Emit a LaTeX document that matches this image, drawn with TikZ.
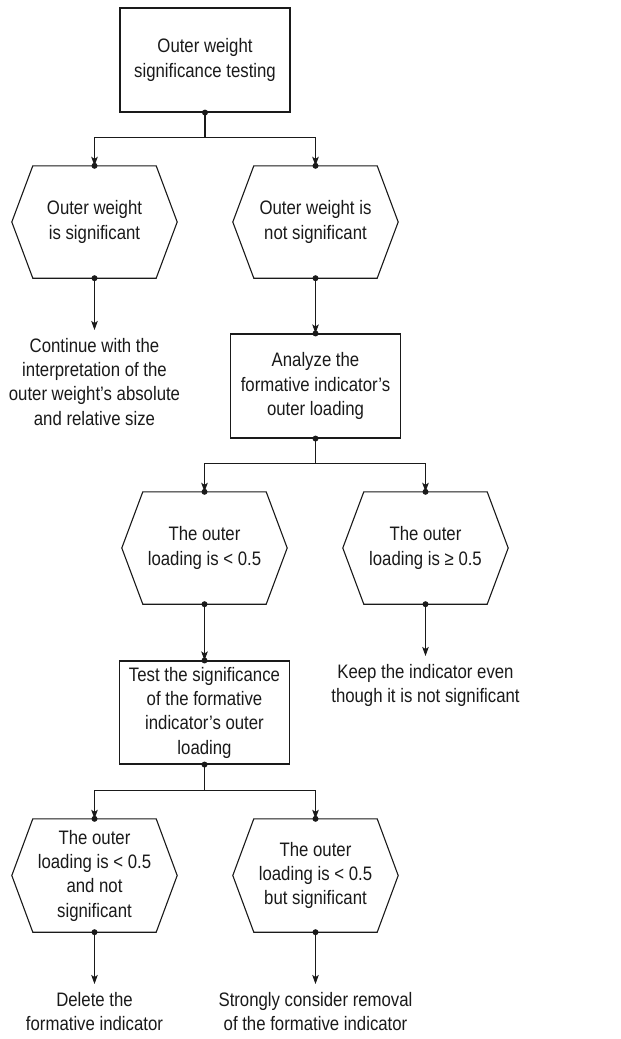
\documentclass[tikz,border=0pt]{standalone}
\usepackage{fontspec}
\setmainfont{Liberation Sans}[FakeStretch=0.86]
\usetikzlibrary{arrows.meta}
\definecolor{ink}{HTML}{1A1A1A}
\tikzset{
  every node/.style={font=\fontsize{19.5}{24.3}\selectfont, text=ink, align=center},
  boxnode/.style={draw=ink, line width=1.1pt, minimum width=170pt, inner sep=0pt},
  hexnode/.style={minimum width=165pt, minimum height=112pt, inner sep=0pt},
  outcome/.style={anchor=north, inner xsep=0pt, inner ysep=8pt},
  arr/.style={draw=ink, line width=1.1pt, -{Stealth[length=9pt,width=6.5pt,inset=2pt]}},
  conn/.style={draw=ink, line width=1.1pt},
}
\newcommand{\jdot}[1]{\fill[ink] (#1) circle (3pt);}
\begin{document}
\begin{tikzpicture}[x=1pt,y=-1pt]
\useasboundingbox[fill=white] (0,0) rectangle (621,1039);

% boxes
\node[boxnode, minimum height=104pt] (t) at (205,60) {Outer weight\\significance testing};
\node[boxnode, minimum height=104pt] (a) at (315.5,386) {Analyze the\\formative indicator’s\\outer loading};
\node[boxnode, minimum height=103pt] (tb) at (204.5,712.5) {Test the significance\\of the formative\\indicator’s outer\\loading};

% hexagon nodes
\node[hexnode] (h1) at (94.5,222) {Outer weight\\is significant};
\node[hexnode] (h2) at (315.5,222) {Outer weight is\\not significant};
\node[hexnode] (h3) at (204.5,548) {The outer\\loading is < 0.5};
\node[hexnode] (h4) at (425.5,548) {The outer\\loading is ≥ 0.5};
\node[hexnode, minimum height=113pt] (h5) at (94.5,875.5) {The outer\\loading is < 0.5\\and not\\significant};
\node[hexnode, minimum height=113pt] (h6) at (315.5,875.5) {The outer\\loading is < 0.5\\but significant};

\foreach \n in {h1,h2,h3,h4,h5,h6}{
  \draw[conn] (\n.west) -- ([xshift=21pt]\n.north west) -- ([xshift=-21pt]\n.north east)
    -- (\n.east) -- ([xshift=-21pt]\n.south east) -- ([xshift=21pt]\n.south west) -- cycle;
}

% outcome texts
\node[outcome] (c1) at (94.5,330) {Continue with the\\interpretation of the\\outer weight’s absolute\\and relative size};
\node[outcome] (k) at (425.5,656) {Keep the indicator even\\though it is not significant};
\node[outcome] (d) at (94.5,984) {Delete the\\formative indicator};
\node[outcome] (s) at (315.5,984) {Strongly consider removal\\of the formative indicator};

% connectors
\draw[arr] (t.south) -- ++(0,25) -| (h1.north);
\draw[arr] (t.south) -- ++(0,25) -| (h2.north);
\draw[arr] (h1.south) -- (c1.north);
\draw[arr] (h2.south) -- (a.north);
\draw[arr] (a.south) -- ++(0,25) -| (h3.north);
\draw[arr] (a.south) -- ++(0,25) -| (h4.north);
\draw[arr] (h3.south) -- (tb.north);
\draw[arr] (h4.south) -- (k.north);
\draw[arr] (tb.south) -- ++(0,26) -| (h5.north);
\draw[arr] (tb.south) -- ++(0,26) -| (h6.north);
\draw[arr] (h5.south) -- (d.north);
\draw[arr] (h6.south) -- (s.north);

% junction dots
\foreach \p in {t.south,a.north,a.south,tb.north,tb.south,
  h1.north,h1.south,h2.north,h2.south,h3.north,h3.south,
  h4.north,h4.south,h5.north,h5.south,h6.north,h6.south}{
  \jdot{\p}
}
\end{tikzpicture}
\end{document}
